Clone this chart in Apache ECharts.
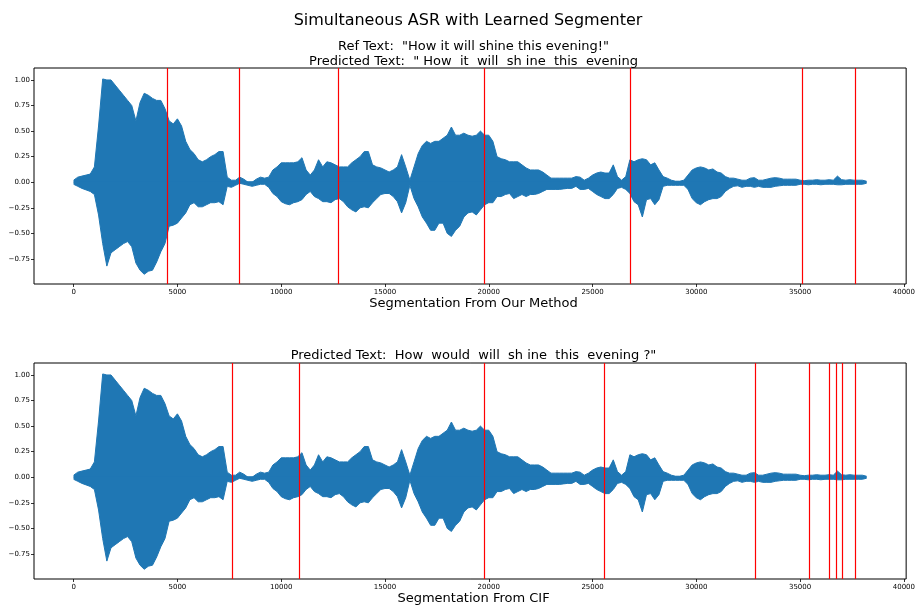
<!DOCTYPE html>
<html>
<head>
<meta charset="utf-8">
<script src="https://cdn.jsdelivr.net/npm/echarts@6/dist/echarts.min.js"></script>
<style>
html,body{margin:0;padding:0;background:#fff;}
#chart{width:918px;height:606px;}
</style>
</head>
<body>
<div id="chart"></div>
<script>
// ---- data ----
const sampleStep = 200; // envelope sampled every 200 audio samples, starting at sample 0
const waveUpper = [
0.02,0.05,0.06,0.07,0.08,0.15,0.55,1.01,1.0,1.0,
0.95,0.9,0.85,0.8,0.75,0.6,0.78,0.87,0.85,0.82,
0.8,0.8,0.72,0.6,0.57,0.62,0.55,0.4,0.32,0.28,
0.22,0.2,0.22,0.25,0.27,0.3,0.3,0.05,0.02,0.02,
0.05,0.03,0.0,0.0,0.03,0.05,0.04,0.05,0.12,0.15,
0.19,0.19,0.19,0.19,0.2,0.24,0.12,0.07,0.12,0.22,
0.15,0.2,0.19,0.17,0.15,0.15,0.15,0.19,0.22,0.25,
0.3,0.3,0.17,0.15,0.14,0.12,0.1,0.12,0.15,0.27,
0.15,0.02,0.15,0.28,0.36,0.4,0.38,0.4,0.4,0.43,
0.46,0.54,0.46,0.46,0.48,0.46,0.45,0.46,0.5,0.46,
0.46,0.4,0.25,0.23,0.22,0.2,0.2,0.2,0.17,0.14,
0.12,0.12,0.12,0.1,0.07,0.04,0.04,0.04,0.04,0.04,
0.04,0.055,0.05,0.02,0.04,0.07,0.09,0.1,0.09,0.09,
0.17,0.055,0.02,0.055,0.22,0.2,0.22,0.23,0.22,0.17,
0.19,0.12,0.055,0.04,0.02,0.01,0.01,0.02,0.07,0.12,
0.14,0.15,0.14,0.12,0.13,0.1,0.09,0.055,0.04,0.04,
0.03,0.02,0.02,0.04,0.045,0.02,0.02,0.03,0.04,0.045,
0.04,0.03,0.03,0.03,0.03,0.02,0.015,0.02,0.02,0.025,
0.02,0.02,0.025,0.02,0.06,0.025,0.02,0.025,0.02,0.02,
0.02,0.01
];
const waveLower = [
-0.02,-0.04,-0.06,-0.075,-0.09,-0.12,-0.32,-0.6,-0.82,-0.69,
-0.66,-0.63,-0.6,-0.58,-0.63,-0.79,-0.86,-0.9,-0.87,-0.86,
-0.78,-0.68,-0.6,-0.43,-0.42,-0.4,-0.35,-0.3,-0.22,-0.2,
-0.24,-0.24,-0.22,-0.2,-0.2,-0.19,-0.22,-0.04,-0.05,-0.03,
-0.01,-0.02,-0.03,-0.04,-0.03,-0.02,-0.02,-0.05,-0.11,-0.14,
-0.19,-0.21,-0.22,-0.2,-0.19,-0.17,-0.12,-0.09,-0.14,-0.16,
-0.19,-0.19,-0.2,-0.17,-0.16,-0.19,-0.24,-0.27,-0.29,-0.25,
-0.24,-0.25,-0.2,-0.16,-0.12,-0.11,-0.11,-0.14,-0.19,-0.3,
-0.2,-0.03,-0.16,-0.24,-0.34,-0.4,-0.47,-0.47,-0.4,-0.4,
-0.5,-0.53,-0.47,-0.43,-0.34,-0.3,-0.29,-0.32,-0.27,-0.22,
-0.2,-0.2,-0.14,-0.14,-0.12,-0.11,-0.16,-0.14,-0.12,-0.14,
-0.12,-0.12,-0.11,-0.09,-0.07,-0.07,-0.07,-0.07,-0.065,-0.06,
-0.06,-0.04,-0.07,-0.07,-0.06,-0.09,-0.12,-0.14,-0.16,-0.16,
-0.12,-0.06,-0.05,-0.07,-0.11,-0.19,-0.22,-0.34,-0.17,-0.16,
-0.22,-0.17,-0.04,-0.03,-0.03,-0.03,-0.03,-0.03,-0.07,-0.16,
-0.2,-0.22,-0.19,-0.17,-0.16,-0.16,-0.14,-0.09,-0.06,-0.04,
-0.035,-0.05,-0.04,-0.04,-0.05,-0.04,-0.05,-0.05,-0.05,-0.04,
-0.035,-0.03,-0.03,-0.03,-0.03,-0.02,-0.02,-0.025,-0.02,-0.02,
-0.025,-0.02,-0.02,-0.02,-0.025,-0.025,-0.02,-0.02,-0.02,-0.02,
-0.02,-0.01
];
const ourMethodBoundaries = [4500, 7990, 12760, 19780, 26800, 35100, 37680];
const cifBoundaries = [7650, 10850, 19780, 25570, 32860, 35430, 36390, 36720, 37010, 37680];
const xTicks = [0, 5000, 10000, 15000, 20000, 25000, 30000, 35000, 40000];
const yTicks = [-0.75, -0.5, -0.25, 0, 0.25, 0.5, 0.75, 1.0];

const suptitleText = 'Simultaneous ASR with Learned Segmenter';
const topTitleLines = ['Ref Text:  "How it will shine this evening!"', 'Predicted Text:  " How  it  will  sh ine  this  evening'];
const bottomTitleText = 'Predicted Text:  How  would  will  sh ine  this  evening ?"';
const topXLabel = 'Segmentation From Our Method';
const bottomXLabel = 'Segmentation From CIF';

// ---- chart ----
const FONT = 'DejaVu Sans';
const BLUE = '#1f77b4';
const upperData = waveUpper.map((v, i) => [i * sampleStep, v]);
const lowerData = waveLower.map((v, i) => [i * sampleStep, v]);

function xAxis(gi) {
  return {
    type: 'value', gridIndex: gi, min: -1910, max: 40110,
    splitLine: {show: false},
    axisLine: {show: false, onZero: false},
    axisTick: {show: true, length: 3, lineStyle: {color: '#000', width: 0.8}, customValues: xTicks},
    axisLabel: {customValues: xTicks, fontFamily: FONT, fontSize: 7, color: '#000', margin: 5,
      formatter: v => String(Math.round(v))}
  };
}
function yAxis(gi) {
  return {
    type: 'value', gridIndex: gi, min: -0.995, max: 1.117,
    splitLine: {show: false},
    axisLine: {show: false, onZero: false},
    axisTick: {show: true, length: 3, lineStyle: {color: '#000', width: 0.8}, customValues: yTicks},
    axisLabel: {customValues: yTicks, fontFamily: FONT, fontSize: 7, color: '#000', margin: 4,
      formatter: v => (v < 0 ? '\u2212' + Math.abs(v).toFixed(2) : v.toFixed(2))}
  };
}
function waveSeries(gi, data, originVal, bounds) {
  const s = {
    type: 'line', xAxisIndex: gi, yAxisIndex: gi, data: data,
    showSymbol: false, symbol: 'none', silent: true, animation: false,
    lineStyle: {color: BLUE, width: 1},
    areaStyle: {color: BLUE, opacity: 1, origin: originVal}
  };
  if (bounds) {
    s.markLine = {
      silent: true, animation: false, symbol: ['none', 'none'],
      label: {show: false},
      lineStyle: {color: '#ff0000', width: 1.2, type: 'solid'},
      data: bounds.map(b => ({xAxis: b}))
    };
  }
  return s;
}
function titleText(text, cx, top, size, extra) {
  return {text: text, left: cx, top: top, textAlign: 'center', padding: 0,
    textStyle: Object.assign({fontFamily: FONT, fontSize: size, fontWeight: 'normal', color: '#000'}, extra || {})};
}

const chart = echarts.init(document.getElementById('chart'), null, {renderer: 'canvas'});
chart.setOption({
  backgroundColor: '#fff',
  animation: false,
  title: [
    titleText(suptitleText, 468, 13, 16),
    titleText(topTitleLines.join('\n'), 473.5, 39, 13, {lineHeight: 15}),
    titleText(topXLabel, 473.5, 297, 13),
    titleText(bottomTitleText, 473.5, 349, 13),
    titleText(bottomXLabel, 473.5, 592, 13)
  ],
  grid: [
    {left: 34, right: 5, top: 68, height: 216, show: true, borderColor: '#000', borderWidth: 1, backgroundColor: 'transparent'},
    {left: 34, right: 5, top: 363, height: 216, show: true, borderColor: '#000', borderWidth: 1, backgroundColor: 'transparent'}
  ],
  xAxis: [xAxis(0), xAxis(1)],
  yAxis: [yAxis(0), yAxis(1)],
  series: [
    waveSeries(0, upperData, -0.01, null),
    waveSeries(0, lowerData, 0.01, ourMethodBoundaries),
    waveSeries(1, upperData, -0.01, null),
    waveSeries(1, lowerData, 0.01, cifBoundaries)
  ]
});
</script>
</body>
</html>
